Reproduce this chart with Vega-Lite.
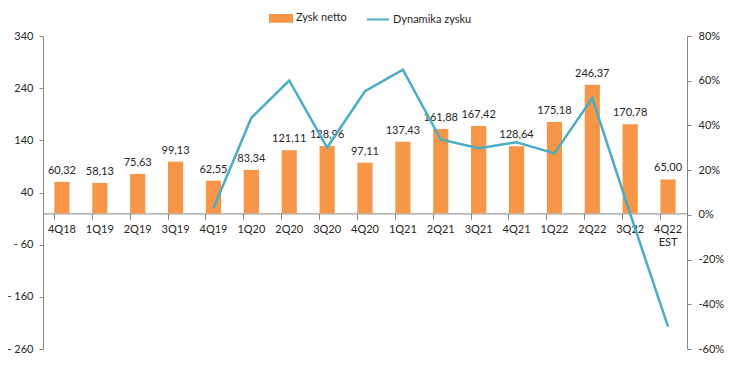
{
  "$schema": "https://vega.github.io/schema/vega-lite/v6.json",
  "autosize": "none",
  "width": 644,
  "height": 313,
  "padding": {"left": 43, "top": 36, "right": 54, "bottom": 23},
  "background": "white",
  "config": {
    "font": "Lato",
    "view": {"stroke": null},
    "locale": {"number": {"decimal": ",", "thousands": " ", "grouping": [3], "currency": ["", " zł"], "minus": "-"}},
    "axis": {"labelFont": "Lato", "labelFontSize": 11, "labelColor": "#262626", "domainColor": "#868686", "tickColor": "#868686", "grid": false, "title": null}
  },
  "data": {
    "values": [
      {"q": "4Q18", "zysk": 60.32, "dyn": null},
      {"q": "1Q19", "zysk": 58.13, "dyn": null},
      {"q": "2Q19", "zysk": 75.63, "dyn": null},
      {"q": "3Q19", "zysk": 99.13, "dyn": null},
      {"q": "4Q19", "zysk": 62.55, "dyn": 0.03},
      {"q": "1Q20", "zysk": 83.34, "dyn": 0.434},
      {"q": "2Q20", "zysk": 121.11, "dyn": 0.601},
      {"q": "3Q20", "zysk": 128.96, "dyn": 0.301},
      {"q": "4Q20", "zysk": 97.11, "dyn": 0.553},
      {"q": "1Q21", "zysk": 137.43, "dyn": 0.649},
      {"q": "2Q21", "zysk": 161.88, "dyn": 0.337},
      {"q": "3Q21", "zysk": 167.42, "dyn": 0.298},
      {"q": "4Q21", "zysk": 128.64, "dyn": 0.325},
      {"q": "1Q22", "zysk": 175.18, "dyn": 0.275},
      {"q": "2Q22", "zysk": 246.37, "dyn": 0.522},
      {"q": "3Q22", "zysk": 170.78, "dyn": 0.005},
      {"q": "4Q22 EST", "zysk": 65.0, "dyn": -0.5}
    ]
  },
  "encoding": {
    "x": {
      "field": "q", "type": "nominal", "sort": null,
      "scale": {"paddingInner": 0.6, "paddingOuter": 0.3},
      "axis": {
        "orient": "bottom", "offset": -135.6, "labelAngle": 0, "tickSize": 6, "labelPadding": 4,
        "bandPosition": 0,
        "labelExpr": "datum.value == '4Q22 EST' ? ['4Q22', 'EST'] : datum.value"
      }
    }
  },
  "layer": [
    {
      "layer": [
        {
          "mark": {"type": "bar"},
          "encoding": {
            "y": {
              "field": "zysk", "type": "quantitative",
              "scale": {"domain": [-260, 340], "nice": false, "zero": false},
              "axis": {
                "orient": "left", "values": [-260, -160, -60, 40, 140, 240, 340], "tickSize": 4, "labelPadding": 6,
                "labelExpr": "datum.value < 0 ? '- ' + format(-datum.value, 'd') : format(datum.value, 'd')"
              }
            },
            "color": {
              "datum": "Zysk netto",
              "scale": {"domain": ["Zysk netto", "Dynamika zysku"], "range": ["#F79646", "#4BACC6"]},
              "legend": {
                "title": null, "orient": "none", "direction": "horizontal", "legendX": 226, "legendY": -30,
                "padding": 0, "labelFont": "Lato", "labelFontSize": 11, "labelColor": "#262626",
                "symbolSize": 484, "labelOffset": 3, "columnPadding": 16,
                "encode": {
                  "symbols": {
                    "update": {
                      "shape": {"signal": "datum.value == 'Zysk netto' ? 'M-1,-0.3H1V0.3H-1Z' : 'M-1,0H1'"},
                      "fill": {"signal": "datum.value == 'Zysk netto' ? '#F79646' : 'transparent'"},
                      "stroke": {"signal": "datum.value == 'Zysk netto' ? 'transparent' : '#4BACC6'"},
                      "strokeWidth": {"value": 2},
                      "opacity": {"value": 1}
                    }
                  }
                }
              }
            }
          }
        },
        {
          "mark": {"type": "text", "baseline": "bottom", "dy": -6, "font": "Lato", "fontSize": 11, "color": "#262626"},
          "encoding": {
            "y": {"field": "zysk", "type": "quantitative"},
            "text": {"field": "zysk", "type": "quantitative", "format": ".2f"}
          }
        }
      ]
    },
    {
      "transform": [{"filter": "isValid(datum.dyn)"}],
      "mark": {"type": "line", "strokeWidth": 2.5},
      "encoding": {
        "y": {
          "field": "dyn", "type": "quantitative",
          "scale": {"domain": [-0.6, 0.8], "nice": false, "zero": false},
          "axis": {"orient": "right", "values": [-0.6, -0.4, -0.2, 0, 0.2, 0.4, 0.6, 0.8], "format": ".0%", "tickSize": 4, "labelPadding": 7}
        },
        "color": {"datum": "Dynamika zysku"}
      }
    }
  ],
  "resolve": {"scale": {"y": "independent"}}
}
